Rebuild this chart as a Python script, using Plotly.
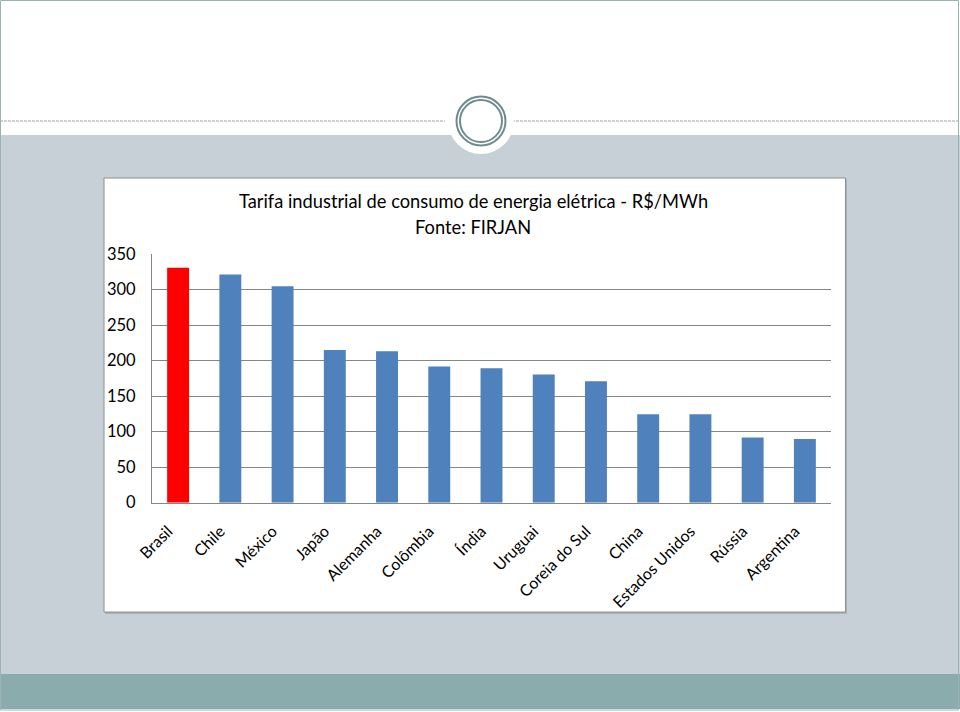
import plotly.graph_objects as go

W, H = 960, 712

categories = ["Brasil", "Chile", "México", "Japão", "Alemanha", "Colômbia", "Índia",
              "Uruguai", "Coreia do Sul", "China", "Estados Unidos", "Rússia", "Argentina"]
values = [330.7, 321, 304.5, 214.8, 213, 191.6, 189.2, 180.4, 171, 124.6, 124.6, 91.6, 89.6]
bar_colors = ["#FF0000"] + ["#4F81BD"] * 12
y_ticks = [0, 50, 100, 150, 200, 250, 300, 350]
title_lines = ["Tarifa industrial de consumo de energia elétrica - R$/MWh", "Fonte: FIRJAN"]

def px(x):
    return x / W

def py(y):
    return 1 - y / H

fig = go.Figure(go.Bar(x=categories, y=values, marker=dict(color=bar_colors, line=dict(width=0)),
                       width=0.42))

shapes = []
# slide gray band
shapes.append(dict(type="rect", xref="paper", yref="paper", x0=0, x1=1, y0=py(674), y1=py(135),
                   fillcolor="#C6D0D6", line=dict(width=0), layer="below"))
# teal bottom stripe
shapes.append(dict(type="rect", xref="paper", yref="paper", x0=0, x1=1, y0=py(709), y1=py(674),
                   fillcolor="#8AACAC", line=dict(width=0), layer="below"))
# dashed line
for a, b in [(0, 445), (512, 960)]:
    shapes.append(dict(type="line", xref="paper", yref="paper", x0=px(a), x1=px(b), y0=py(121), y1=py(121),
                       line=dict(color="#9AA5A8", width=1, dash="3px,1px"), layer="below"))
# white halo
cx, cy = 481, 121
r = 33
shapes.append(dict(type="circle", xref="paper", yref="paper", x0=px(cx - r), x1=px(cx + r),
                   y0=py(cy + r), y1=py(cy - r), fillcolor="white", line=dict(width=0), layer="below"))
for rr in (24.5, 21):
    shapes.append(dict(type="circle", xref="paper", yref="paper", x0=px(cx - rr), x1=px(cx + rr),
                       y0=py(cy + rr), y1=py(cy - rr), fillcolor="rgba(0,0,0,0)",
                       line=dict(color="#6E8C8F", width=2), layer="below"))
# chart box shadow + box
shapes.append(dict(type="rect", xref="paper", yref="paper", x0=px(105), x1=px(847), y0=py(614), y1=py(179),
                   fillcolor="#A9B2B7", line=dict(width=0), layer="below"))
shapes.append(dict(type="rect", xref="paper", yref="paper", x0=px(104), x1=px(845.5), y0=py(612), y1=py(178),
                   fillcolor="white", line=dict(color="#8E8E8E", width=1), layer="below"))
# slide outline
shapes.append(dict(type="rect", xref="paper", yref="paper", x0=px(0.5), x1=px(958.5), y0=py(710), y1=py(0.5),
                   fillcolor="rgba(0,0,0,0)", line=dict(color="#9DB3B3", width=1), layer="below"))

annotations = [
    dict(text=title_lines[0], xref="paper", yref="paper", x=px(473), y=py(201), showarrow=False,
         xanchor="center", yanchor="middle", font=dict(family="Lato", size=18.3, color="#000000")),
    dict(text=title_lines[1], xref="paper", yref="paper", x=px(473), y=py(227), showarrow=False,
         xanchor="center", yanchor="middle", font=dict(family="Lato", size=18.3, color="#000000")),
]

fig.update_layout(
    width=W, height=H,
    margin=dict(l=0, r=0, t=0, b=0),
    paper_bgcolor="white", plot_bgcolor="rgba(0,0,0,0)",
    shapes=shapes, annotations=annotations,
    showlegend=False, bargap=0.58,
    xaxis=dict(domain=[px(152), px(831)], tickangle=-45, automargin=False,
               tickfont=dict(family="Lato", size=16, color="#000000"),
               showline=True, linecolor="#868686", linewidth=1, showgrid=False,
               ticks="", ticklabelstandoff=12, ticklabelshift=-10),
    yaxis=dict(domain=[py(502.7), py(254)], range=[0, 350], tickvals=y_ticks, automargin=False,
               tickfont=dict(family="Lato", size=16.5, color="#000000"),
               showline=True, linecolor="#868686", linewidth=1, showgrid=True,
               gridcolor="#868686", gridwidth=1, zeroline=False, ticks="", ticklabelstandoff=12),
)

fig.write_html("out.html")
